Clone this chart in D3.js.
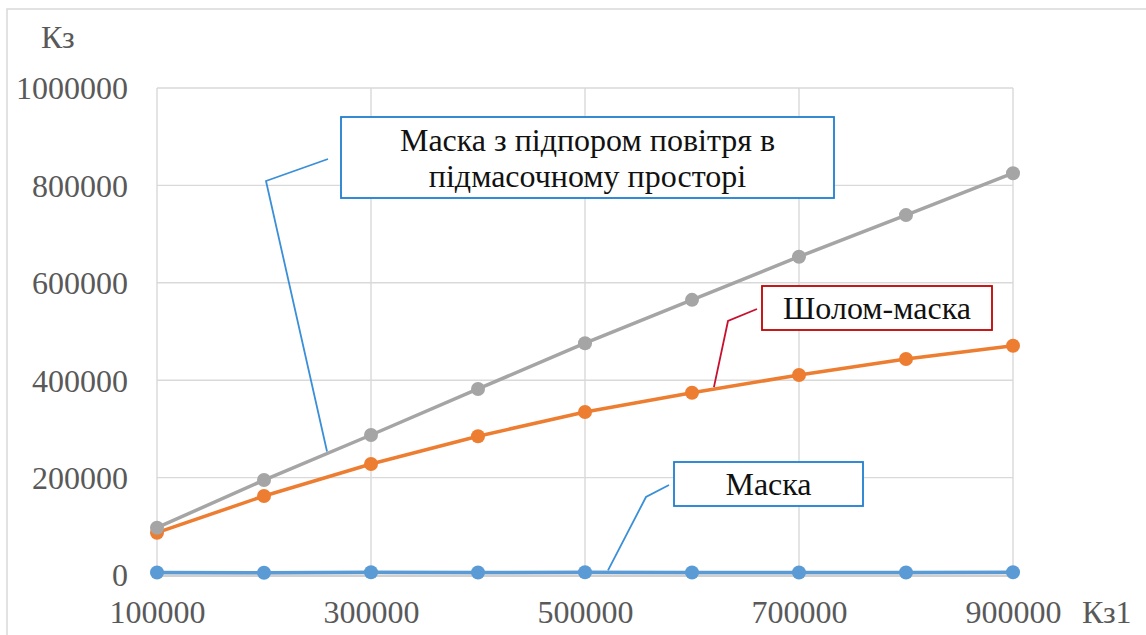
<!DOCTYPE html>
<html>
<head>
<meta charset="utf-8">
<script src="https://cdn.jsdelivr.net/npm/d3@7"></script>
<style>
  html, body { margin: 0; padding: 0; background: #fff; }
  svg { display: block; }
  svg text { font-family: "Liberation Serif", "Times New Roman", "DejaVu Serif", serif !important; }
</style>
</head>
<body>
<svg id="chart" width="1146" height="635"></svg>
<script>
// Кз1 values along the horizontal axis
const kz1 = [100000, 200000, 300000, 400000, 500000, 600000, 700000, 800000, 900000];

// Кз for each protective device
const maska = [5000, 4500, 5500, 5000, 5500, 5000, 5000, 5000, 5500];
const sholomMaska = [86900, 162200, 228000, 285000, 334700, 374300, 410700, 443500, 470800];
const maskaPidpir = [97100, 195000, 287500, 382000, 476000, 565000, 653600, 739000, 825000];

const seriesNames = ["Маска", "Шолом-маска", "Маска з підпором повітря в підмасочному просторі"];

const xTicks = [100000, 300000, 500000, 700000, 900000];
const yTicks = [0, 200000, 400000, 600000, 800000, 1000000];

const svg = d3.select("#chart");

const x = d3.scaleLinear().domain([100000, 900000]).range([157, 1013]);
const y = d3.scaleLinear().domain([0, 1000000]).range([575, 88]);

const labelSize = 32;

// outer chart frame
svg.append("rect")
  .attr("x", 7).attr("y", 9).attr("width", 1200).attr("height", 700)
  .attr("fill", "#fff").attr("stroke", "#d9d9d9").attr("stroke-width", 1.5);

// gridlines
const grid = svg.append("g");
grid.selectAll("line.h").data(yTicks).join("line")
  .attr("x1", x(100000)).attr("x2", x(900000))
  .attr("y1", d => y(d)).attr("y2", d => y(d))
  .attr("stroke", "#d9d9d9").attr("stroke-width", 1.4);
grid.selectAll("line.v").data(xTicks).join("line")
  .attr("x1", d => x(d)).attr("x2", d => x(d))
  .attr("y1", y(0)).attr("y2", y(1000000))
  .attr("stroke", "#d9d9d9").attr("stroke-width", 1.4);
// horizontal axis line
svg.append("line")
  .attr("x1", x(100000)).attr("x2", x(900000))
  .attr("y1", y(0) + 1).attr("y2", y(0) + 1)
  .attr("stroke", "#d0d0d0").attr("stroke-width", 2);

// axes labels
const yAxis = d3.axisLeft(y).tickValues(yTicks).tickSize(0).tickPadding(0).tickFormat(d3.format("d"));
const gy = svg.append("g").attr("transform", "translate(128,0)").call(yAxis);
gy.attr("font-family", null);
gy.select(".domain").remove();
gy.selectAll("text")
  .attr("font-size", labelSize).attr("fill", "#595959").attr("dy", "0.34em");

const xAxis = d3.axisBottom(x).tickValues(xTicks).tickSize(0).tickPadding(0).tickFormat(d3.format("d"));
const gx = svg.append("g").attr("transform", "translate(0,623)").call(xAxis);
gx.attr("font-family", null);
gx.select(".domain").remove();
gx.selectAll("text")
  .attr("font-size", labelSize).attr("fill", "#595959").attr("y", 0).attr("dy", 0);

svg.append("text").attr("x", 41).attr("y", 48)
  .attr("font-size", labelSize).attr("fill", "#595959").text("Кз");
svg.append("text").attr("x", 1082).attr("y", 623)
  .attr("font-size", labelSize).attr("fill", "#595959").text("Кз1");

// data series, drawn in legend order so the last one sits on top
const series = [
  { name: seriesNames[0], values: maska, color: "#5b9bd5" },
  { name: seriesNames[1], values: sholomMaska, color: "#ed7d31" },
  { name: seriesNames[2], values: maskaPidpir, color: "#a5a5a5" }
];

const line = d3.line().x((d, i) => x(kz1[i])).y(d => y(d));

series.forEach(s => {
  const g = svg.append("g");
  g.append("path").datum(s.values)
    .attr("d", line).attr("fill", "none")
    .attr("stroke", s.color).attr("stroke-width", 3.5)
    .attr("stroke-linejoin", "round");
  g.selectAll("circle").data(s.values).join("circle")
    .attr("cx", (d, i) => x(kz1[i])).attr("cy", d => y(d))
    .attr("r", 7).attr("fill", s.color);
});

// value of a series at an arbitrary Кз1, along its straight segments
function along(values, xv) {
  const i = Math.min(kz1.length - 2, Math.max(0, d3.bisectRight(kz1, xv) - 1));
  const t = (xv - kz1[i]) / (kz1[i + 1] - kz1[i]);
  return values[i] + t * (values[i + 1] - values[i]);
}

// callouts: anchor on the series, elbow leader, boxed label
const callouts = [
  { values: maskaPidpir, at: 258900, stroke: "#1f7ed0", lead: "#3a8fd8",
    box: [341, 117, 493, 81], elbow: [266, 181], tip: [328, 159],
    lines: ["Маска з підпором повітря в", "підмасочному просторі"], base: [151, 187] },
  { values: sholomMaska, at: 620500, stroke: "#c00000", lead: "#c8102e",
    box: [762, 286, 230, 44], elbow: [728, 321], tip: [757, 309],
    lines: ["Шолом-маска"], base: [319] },
  { values: maska, at: 521500, stroke: "#1f7ed0", lead: "#3a8fd8",
    box: [674, 462, 189, 44], elbow: [646, 497], tip: [669, 485],
    lines: ["Маска"], base: [495] }
];

callouts.forEach(c => {
  const ax = x(c.at), ay = y(along(c.values, c.at)) - 2;
  svg.append("polyline")
    .attr("points", [[ax, ay], c.elbow, c.tip].map(p => p.join(",")).join(" "))
    .attr("fill", "none").attr("stroke", c.lead).attr("stroke-width", 1.8);
  svg.append("rect")
    .attr("x", c.box[0]).attr("y", c.box[1])
    .attr("width", c.box[2]).attr("height", c.box[3])
    .attr("fill", "#fff").attr("stroke", c.stroke).attr("stroke-width", 1.8);
  c.lines.forEach((t, k) => {
    svg.append("text")
      .attr("x", c.box[0] + c.box[2] / 2).attr("y", c.base[k])
      .attr("text-anchor", "middle")
      .attr("font-size", labelSize).attr("fill", "#111")
      .text(t);
  });
});
</script>
</body>
</html>
